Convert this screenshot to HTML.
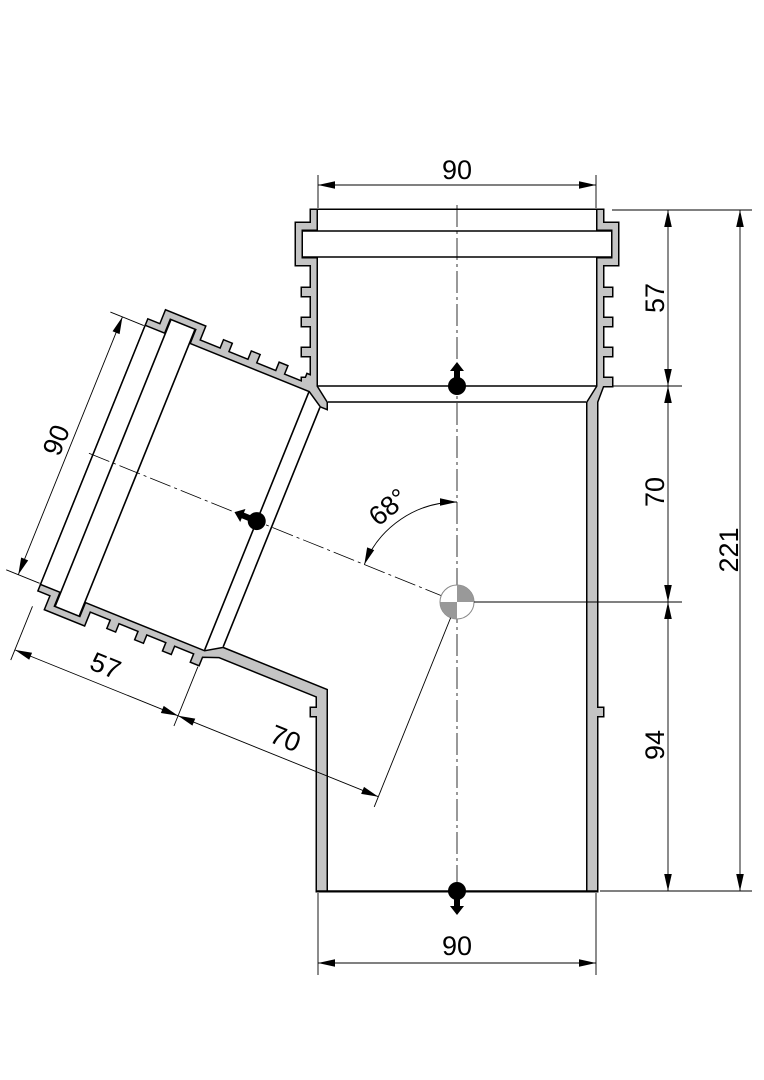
<!DOCTYPE html>
<html><head><meta charset="utf-8"><style>
html,body{margin:0;padding:0;background:#fff;}
svg{display:block;}
text{font-family:"Liberation Sans",sans-serif;font-size:27px;fill:#000;}
</style></head><body>
<svg width="764" height="1080" viewBox="0 0 764 1080" xmlns="http://www.w3.org/2000/svg">
<defs>
<marker id="ar" markerUnits="userSpaceOnUse" markerWidth="20" markerHeight="10" viewBox="-20 -5 20 10" refX="0" refY="0" orient="auto-start-reverse">
<path d="M0,0 L-17,-3.8 L-17,3.8 Z" fill="#000"/>
</marker>
<path id="outB" d="M311,210 L311,223 L296,223 L296,265 L311,265 L311,288 L302,288 L302,296 L311,296 L311,318 L302,318 L302,326 L311,326 L311,348 L302,348 L302,356 L311,356 L311,378 L302,378 L302,386 L311,386 L317,402 L317,602 L597,602 L597,402 L603,386 L612,386 L612,378 L603,378 L603,356 L612,356 L612,348 L603,348 L603,326 L612,326 L612,318 L603,318 L603,296 L612,296 L612,288 L603,288 L603,265 L618,265 L618,223 L603,223 L603,210 Z"/>
<path id="outM" d="M311,210 L311,223 L296,223 L296,265 L311,265 L311,288 L302,288 L302,296 L311,296 L311,318 L302,318 L302,326 L311,326 L311,348 L302,348 L302,356 L311,356 L311,378 L302,378 L302,386 L311,386 L317,402 L317,708 L311,708 L311,716 L317,716 L317,891 L597,891 L597,716 L603,716 L603,708 L597,708 L597,402 L603,386 L612,386 L612,378 L603,378 L603,356 L612,356 L612,348 L603,348 L603,326 L612,326 L612,318 L603,318 L603,296 L612,296 L612,288 L603,288 L603,265 L618,265 L618,223 L603,223 L603,210 Z"/>
<path id="inB" d="M318,210 L596,210 L596,231 L611,231 L611,257 L596,257 L596,386 L586,402 L586,602 L328,602 L328,402 L318,386 L318,257 L303,257 L303,231 L318,231 Z"/>
<path id="inM" d="M318,210 L596,210 L596,231 L611,231 L611,257 L596,257 L596,386 L586,402 L586,891 L328,891 L328,402 L318,386 L318,257 L303,257 L303,231 L318,231 Z"/>
<g id="dot"><circle cx="0" cy="0" r="9" fill="#000"/><path d="M0,-24 L7,-15 L3,-15 L3,-6 L-3,-6 L-3,-15 L-7,-15 Z" fill="#000"/></g>
</defs>

<!-- outers stroked -->
<g stroke="#000" stroke-width="3" fill="#c4c4c4" stroke-linejoin="miter">
<use href="#outB" transform="rotate(-68 457 602)"/>
<use href="#outM"/>
</g>
<g fill="#c4c4c4" stroke="none">
<use href="#outB" transform="rotate(-68 457 602)"/>
<use href="#outM"/>
</g>
<!-- inners -->
<g stroke="#000" stroke-width="3" fill="#fff">
<use href="#inB" transform="rotate(-68 457 602)"/>
<use href="#inM"/>
</g>
<g fill="#fff" stroke="none">
<use href="#inB" transform="rotate(-68 457 602)"/>
<use href="#inM"/>
</g>

<!-- internal lines main -->
<g stroke="#000" stroke-width="1.6" fill="none">
<line x1="303" y1="231" x2="611" y2="231"/>
<line x1="303" y1="257" x2="611" y2="257"/>
<line x1="318" y1="386" x2="596" y2="386"/>
<line x1="328" y1="402" x2="586" y2="402"/>
<line x1="317" y1="891" x2="597" y2="891"/>
</g>
<!-- branch lines -->
<g transform="rotate(-68 457 602)" stroke="#000" stroke-width="1.6" fill="none">
<line x1="303" y1="231" x2="611" y2="231"/>
<line x1="303" y1="257" x2="611" y2="257"/>
<line x1="318" y1="386" x2="596" y2="386"/>
<line x1="328" y1="402" x2="586" y2="402"/>
</g>

<!-- centerlines -->
<g stroke="#000" stroke-width="0.8" stroke-dasharray="22 4 3 4" fill="none">
<line x1="457" y1="205" x2="457" y2="905"/>
<line x1="457" y1="205" x2="457" y2="590" transform="rotate(-68 457 602)"/>
</g>

<!-- center marker -->
<circle cx="457" cy="602" r="17" fill="#fff" stroke="#888" stroke-width="1"/>
<path d="M457,602 L457,585 A17,17 0 0 1 474,602 Z" fill="#999"/>
<path d="M457,602 L457,619 A17,17 0 0 1 440,602 Z" fill="#999"/>

<!-- dots -->
<use href="#dot" transform="translate(457,386)"/>
<use href="#dot" transform="rotate(-68 457 602) translate(457,386)"/>
<use href="#dot" transform="translate(457,891) rotate(180)"/>

<!-- dimensions main -->
<g stroke="#000" stroke-width="0.9" fill="none">
<line x1="318" y1="175" x2="318" y2="208"/>
<line x1="596" y1="175" x2="596" y2="208"/>
<line x1="318" y1="185" x2="596" y2="185" marker-start="url(#ar)" marker-end="url(#ar)"/>
<line x1="318" y1="893" x2="318" y2="975"/>
<line x1="596" y1="893" x2="596" y2="975"/>
<line x1="318" y1="963" x2="596" y2="963" marker-start="url(#ar)" marker-end="url(#ar)"/>
<line x1="612" y1="210" x2="752" y2="210"/>
<line x1="612" y1="386" x2="682" y2="386"/>
<line x1="474" y1="602" x2="682" y2="602"/>
<line x1="600" y1="891" x2="752" y2="891"/>
<line x1="668" y1="210" x2="668" y2="386" marker-start="url(#ar)" marker-end="url(#ar)"/>
<line x1="668" y1="386" x2="668" y2="602" marker-start="url(#ar)" marker-end="url(#ar)"/>
<line x1="668" y1="602" x2="668" y2="891" marker-start="url(#ar)" marker-end="url(#ar)"/>
<line x1="740" y1="210" x2="740" y2="891" marker-start="url(#ar)" marker-end="url(#ar)"/>
<path d="M457,502 A100,100 0 0 0 364.3,564.5" marker-start="url(#ar)" marker-end="url(#ar)"/>
</g>
<text x="457" y="179" text-anchor="middle">90</text>
<text x="457" y="955" text-anchor="middle">90</text>
<text transform="translate(664,298) rotate(-90)" text-anchor="middle">57</text>
<text transform="translate(664,492) rotate(-90)" text-anchor="middle">70</text>
<text transform="translate(664,745) rotate(-90)" text-anchor="middle">94</text>
<text transform="translate(738,550) rotate(-90)" text-anchor="middle">221</text>
<text transform="translate(394,514) rotate(-40)" text-anchor="middle">68°</text>

<!-- branch dimensions -->
<g transform="rotate(-68 457 602)">
<g stroke="#000" stroke-width="0.9" fill="none">
<line x1="318" y1="172" x2="318" y2="208"/>
<line x1="596" y1="172" x2="596" y2="208"/>
<line x1="318" y1="185" x2="596" y2="185" marker-start="url(#ar)" marker-end="url(#ar)"/>
<line x1="236" y1="210" x2="294" y2="210"/>
<line x1="236" y1="386" x2="300" y2="386"/>
<line x1="236" y1="602" x2="440" y2="602"/>
<line x1="247" y1="210" x2="247" y2="386" marker-start="url(#ar)" marker-end="url(#ar)"/>
<line x1="247" y1="386" x2="247" y2="602" marker-start="url(#ar)" marker-end="url(#ar)"/>
</g>
<text x="457" y="179" text-anchor="middle">90</text>
<text transform="translate(257,300) rotate(90)" text-anchor="middle">57</text>
<text transform="translate(257,494) rotate(90)" text-anchor="middle">70</text>
</g>
</svg>
</body></html>
